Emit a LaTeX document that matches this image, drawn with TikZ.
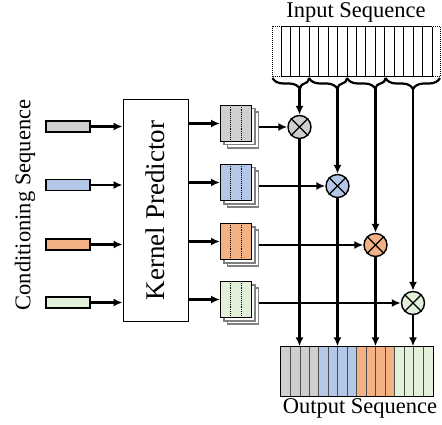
\documentclass[tikz,border=0pt]{standalone}
\usepackage{fontspec}
\setmainfont{Liberation Serif}
\usetikzlibrary{arrows.meta, decorations.pathreplacing, shadows}

\definecolor{seqgray}{HTML}{D0CECE}
\definecolor{seqblue}{HTML}{B4C7E7}
\definecolor{seqorange}{HTML}{F4B183}
\definecolor{seqgreen}{HTML}{E2F0D9}

\begin{document}
\begin{tikzpicture}[x = 1pt, y = -1pt, >= {Latex[length = 9pt, width = 8pt]},
    flow/.style = {->, line width = 2.2pt},
    condbar/.style = {draw, line width = 1.4pt, minimum width = 44pt, minimum height = 11pt, inner sep = 0pt},
    kernel/.style = {draw, line width = 1.4pt, minimum width = 31pt, minimum height = 36pt, inner sep = 0pt,
        double copy shadow = {shadow xshift = 3.3pt, shadow yshift = -3.3pt, fill = white, draw = gray}},
    mult/.style = {shape = circle, draw, line width = 1.4pt, minimum size = 23pt, inner sep = 0pt},
    seqtext/.style = {font = \fontsize{22.5}{24}\selectfont, inner sep = 0pt},
    brace/.style = {line width = 2.2pt, decorate, decoration = {brace, mirror, amplitude = 11pt, aspect = #1}}]
    \useasboundingbox (0, 0) rectangle (442, 425);

    % input sequence
    \node[seqtext, anchor = base] (intext) at (356, 18) {Input Sequence};
    \node[draw, densely dotted, line width = 1pt, minimum width = 167.5pt, minimum height = 50pt, inner sep = 0pt] (inseq) at (356.25, 52) {};
    \draw[line width = 1pt] (281, 27) -- (432, 27) (281, 77) -- (432, 77);
    \foreach \i in {0, ..., 16}
        \draw[line width = 1pt] (281 + 9.4375 * \i, 27) -- (281 + 9.4375 * \i, 77);
    \draw[brace = 0.753] (272.5, 78) -- (309, 78);
    \draw[brace = 0.75] (309, 78) -- (347, 78);
    \draw[brace = 0.74] (347, 78) -- (385.5, 78);
    \draw[brace = 0.505] (385.5, 78) -- (440, 78);
    \coordinate (tip1) at (299.5, 89);
    \coordinate (tip2) at (337.5, 89);
    \coordinate (tip3) at (375.5, 89);
    \coordinate (tip4) at (413, 89);

    % conditioning sequence and kernel predictor
    \node[seqtext, rotate = 90] (condtext) at (25, 205) {Conditioning Sequence};
    \node[condbar, fill = seqgray] (c1) at (68, 126.5) {};
    \node[condbar, fill = seqblue] (c2) at (68, 185) {};
    \node[condbar, fill = seqorange] (c3) at (68, 244.5) {};
    \node[condbar, fill = seqgreen] (c4) at (68, 302.5) {};
    \node[draw, line width = 1.4pt, minimum width = 65pt, minimum height = 222.5pt] (kp) at (155.75, 210.5) {};
    \node[rotate = 90, font = \fontsize{27}{30}\selectfont] (kptext) at (kp) {Kernel Predictor};

    % predicted kernels
    \node[kernel, fill = seqgray] (k1) at (236.2, 123.5) {};
    \node[kernel, fill = seqblue] (k2) at (236.2, 182.5) {};
    \node[kernel, fill = seqorange] (k3) at (236.2, 241.5) {};
    \node[kernel, fill = seqgreen] (k4) at (236.2, 299.5) {};
    \foreach \k in {1, ..., 4}
        \draw[densely dotted, line width = 0.9pt] ([xshift = -5.5pt]k\k.north) -- ([xshift = -5.5pt]k\k.south)
            ([xshift = 5.5pt]k\k.north) -- ([xshift = 5.5pt]k\k.south);

    % multiplications
    \node[mult, fill = seqgray] (m1) at (299.5, 127) {};
    \node[mult, fill = seqblue] (m2) at (337.5, 186) {};
    \node[mult, fill = seqorange] (m3) at (375.5, 245) {};
    \node[mult, fill = seqgreen] (m4) at (413, 303) {};
    \foreach \k in {1, ..., 4}
        \draw[line width = 1.4pt] (m\k.north west) -- (m\k.south east) (m\k.north east) -- (m\k.south west);

    % output sequence
    \node[draw, line width = 1.4pt, minimum width = 151.5pt, minimum height = 49pt, inner sep = 0pt] (outseq) at (356.75, 371.5) {};
    \fill[seqgray] (281, 347) rectangle (318.9, 396);
    \fill[seqblue] (318.9, 347) rectangle (356.8, 396);
    \fill[seqorange] (356.8, 347) rectangle (394.6, 396);
    \fill[seqgreen] (394.6, 347) rectangle (432.5, 396);
    \foreach \i in {1, ..., 15}
        \draw[line width = 0.8pt, black!70] (281 + 9.47 * \i, 347) -- (281 + 9.47 * \i, 396);
    \draw[line width = 1.4pt] (outseq.north west) rectangle (outseq.south east);
    \node[seqtext, anchor = base] (outtext) at (360, 413) {Output Sequence};

    % connectors
    \draw[flow] (c1) -- (c1 -| kp.west);
    \draw[flow] (c2) -- (c2 -| kp.west);
    \draw[flow] (c3) -- (c3 -| kp.west);
    \draw[flow] (c4) -- (c4 -| kp.west);
    \draw[flow] (k1.west -| kp.east) -- (k1.west);
    \draw[flow] (k2.west -| kp.east) -- (k2.west);
    \draw[flow] (k3.west -| kp.east) -- (k3.west);
    \draw[flow] (k4.west -| kp.east) -- (k4.west);
    \draw[flow] ([xshift = 7pt]k1.east |- m1) -- (m1);
    \draw[flow] ([xshift = 7pt]k2.east |- m2) -- (m2);
    \draw[flow] ([xshift = 7pt]k3.east |- m3) -- (m3);
    \draw[flow] ([xshift = 7pt]k4.east |- m4) -- (m4);
    \draw[flow] (tip1) -- (m1);
    \draw[flow] (tip2) -- (m2);
    \draw[flow] (tip3) -- (m3);
    \draw[flow] (tip4) -- (m4);
    \draw[flow] (m1) -- (m1 |- outseq.north);
    \draw[flow] (m2) -- (m2 |- outseq.north);
    \draw[flow] (m3) -- (m3 |- outseq.north);
    \draw[flow] (m4) -- (m4 |- outseq.north);
\end{tikzpicture}
\end{document}
